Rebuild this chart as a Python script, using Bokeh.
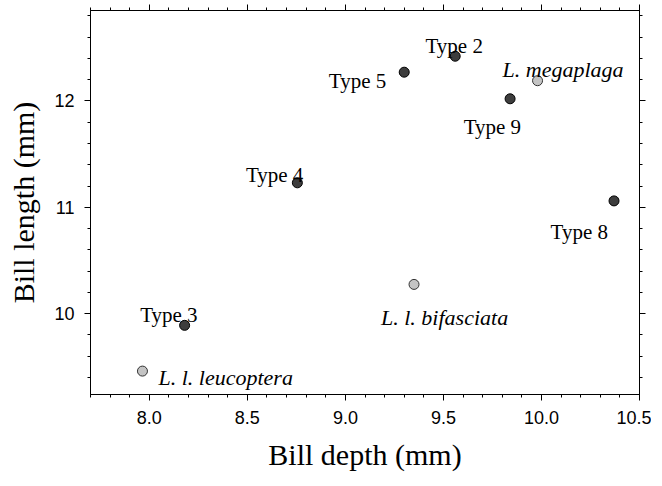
from bokeh.plotting import figure
from bokeh.models import (ColumnDataSource, Range1d, LinearAxis, SingleIntervalTicker,
                          NumeralTickFormatter, CustomJSTickFormatter)
from bokeh.core.properties import value
from bokeh.embed import file_html
from bokeh.resources import INLINE

# ---- data ----
names = ["Type 2", "Type 5", "L. megaplaga", "Type 9", "Type 4", "Type 8",
         "L. l. bifasciata", "Type 3", "L. l. leucoptera"]
bill_depth = [9.56, 9.30, 9.98, 9.84, 8.755, 10.37, 9.35, 8.18, 7.965]
bill_length = [12.42, 12.27, 12.19, 12.02, 11.23, 11.06, 10.275, 9.89, 9.46]
is_species = [False, False, True, False, False, False, True, False, True]

# ---- label placement (style) ----
label_align = {"Type 2": "center", "Type 5": "right", "L. megaplaga": "left",
               "Type 9": "right", "Type 4": "right", "Type 8": "right",
               "L. l. bifasciata": "left", "Type 3": "right", "L. l. leucoptera": "left"}
label_dx = {"Type 2": -1, "Type 5": -18, "L. megaplaga": -35, "Type 9": 11,
            "Type 4": 6, "Type 8": -6, "L. l. bifasciata": -33, "Type 3": 13,
            "L. l. leucoptera": 16}
label_dy = {"Type 2": -10, "Type 5": 9, "L. megaplaga": -11, "Type 9": 28,
            "Type 4": -8, "Type 8": 31, "L. l. bifasciata": 33, "Type 3": -10,
            "L. l. leucoptera": 6}

p = figure(frame_width=549, frame_height=384, output_backend="svg", toolbar_location=None,
           x_range=Range1d(7.7, 10.5), y_range=Range1d(9.24, 12.85),
           min_border_left=90, min_border_right=12, min_border_top=10, min_border_bottom=80,
           x_axis_label="Bill depth (mm)", y_axis_label="Bill length (mm)")
p.background_fill_color = "white"
p.border_fill_color = "white"
p.xgrid.visible = False
p.ygrid.visible = False
p.outline_line_color = "black"
p.outline_line_width = 1

xt = SingleIntervalTicker(interval=0.5, num_minor_ticks=5)
yt = SingleIntervalTicker(interval=1, num_minor_ticks=5)

def style_axis(ax, ticker, show_labels):
    ax.ticker = ticker
    ax.axis_line_color = "black"
    ax.axis_line_width = 1
    ax.major_tick_line_color = "black"
    ax.minor_tick_line_color = "black"
    ax.major_tick_out = 6
    ax.major_tick_in = 0
    ax.minor_tick_out = 3
    ax.minor_tick_in = 0
    if show_labels:
        ax.major_label_text_font = "Liberation Sans"
        ax.major_label_text_font_size = "18px"
        ax.major_label_text_color = "black"
        ax.major_label_standoff = 10
        ax.axis_label_text_font = "Liberation Serif"
        ax.axis_label_text_font_size = "30px"
        ax.axis_label_text_font_style = "normal"
        ax.axis_label_text_color = "black"
    else:
        ax.formatter = CustomJSTickFormatter(code="return ''")
        ax.major_label_standoff = 0
        ax.axis_label = None

xa = p.xaxis[0]
ya = p.yaxis[0]
style_axis(xa, xt, True)
style_axis(ya, yt, True)
xa.formatter = NumeralTickFormatter(format="0.0")
ya.formatter = NumeralTickFormatter(format="0")
xa.axis_label_standoff = 11
ya.axis_label_standoff = 11

top = LinearAxis()
style_axis(top, SingleIntervalTicker(interval=0.5, num_minor_ticks=5), False)
right = LinearAxis()
style_axis(right, SingleIntervalTicker(interval=1, num_minor_ticks=5), False)
p.add_layout(top, "above")
p.add_layout(right, "right")

def src(mask):
    d = dict(x=[], y=[], name=[], align=[], dx=[], dy=[])
    for n, xv, yv, s in zip(names, bill_depth, bill_length, is_species):
        if s == mask:
            d["x"].append(xv); d["y"].append(yv); d["name"].append(n)
            d["align"].append(label_align[n]); d["dx"].append(label_dx[n]); d["dy"].append(label_dy[n])
    return ColumnDataSource(d)

s_type = src(False)
s_spec = src(True)

p.scatter("x", "y", source=s_type, size=10, marker="circle",
          fill_color="#3d3d3d", line_color="black", line_width=1)
p.scatter("x", "y", source=s_spec, size=10, marker="circle",
          fill_color="#c4c4c4", line_color="#333333", line_width=1)

p.text("x", "y", text="name", source=s_type, text_align="align",
       x_offset="dx", y_offset="dy", text_baseline="alphabetic",
       text_font=value("Liberation Serif"), text_font_size="21px", text_color="black")
p.text("x", "y", text="name", source=s_spec, text_align="align",
       x_offset="dx", y_offset="dy", text_baseline="alphabetic",
       text_font=value("Liberation Serif"), text_font_size="22px",
       text_font_style="italic", text_color="black")

open("out.html", "w").write(file_html(p, INLINE))
